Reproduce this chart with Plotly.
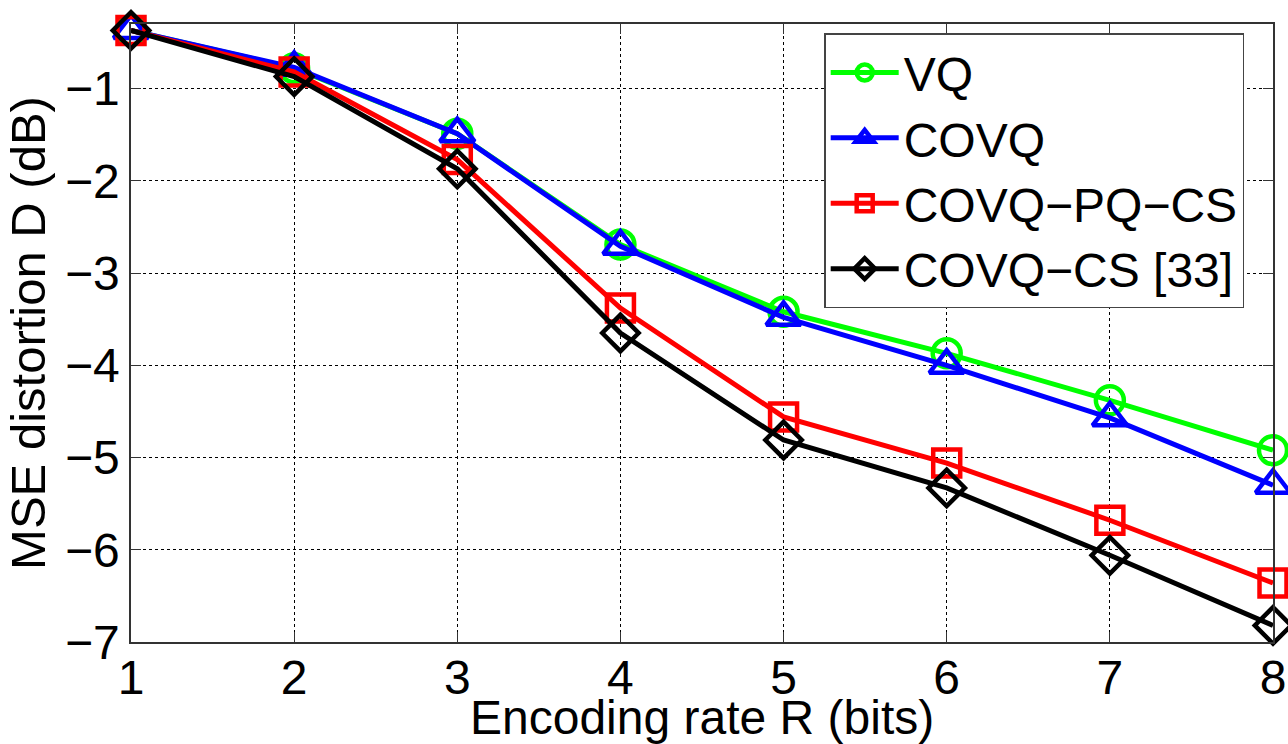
import plotly.graph_objects as go

rate = [1, 2, 3, 4, 5, 6, 7, 8]
vq = [-0.37, -0.78, -1.49, -2.69, -3.42, -3.87, -4.38, -4.92]
covq = [-0.37, -0.77, -1.49, -2.71, -3.48, -4.00, -4.57, -5.30]
covq_pq_cs = [-0.37, -0.82, -1.77, -3.38, -4.56, -5.06, -5.68, -6.36]
covq_cs = [-0.37, -0.87, -1.87, -3.65, -4.81, -5.33, -6.06, -6.82]

series = [
    ("VQ", vq, "#00ff00", "circle-open", 28),
    ("COVQ", covq, "#0000ff", "triangle-up-open", 30),
    ("COVQ\u2212PQ\u2212CS", covq_pq_cs, "#ff0000", "square-open", 27),
    ("COVQ\u2212CS [33]", covq_cs, "#000000", "diamond-open", 28),
]

fig = go.Figure()
for name, vals, color, sym, size in series:
    fig.add_trace(go.Scatter(
        x=rate, y=vals, name=name, mode="lines+markers",
        line=dict(color=color, width=5),
        marker=dict(symbol=sym, size=size, color=color, line=dict(color=color, width=4.5)),
        cliponaxis=False,
    ))

font = "Liberation Sans, Arial, sans-serif"
fig.update_layout(
    width=1288, height=744,
    margin=dict(l=131, r=15, t=24, b=102),
    paper_bgcolor="white", plot_bgcolor="white",
    font=dict(family=font, size=48, color="black"),
    showlegend=True,
    legend=dict(
        x=0.607, y=0.985, xanchor="left", yanchor="top",
        bordercolor="#444", borderwidth=1.5, bgcolor="white",
        font=dict(size=48), itemwidth=68, tracegroupgap=0,
    ),
    xaxis=dict(
        range=[1, 8], dtick=1, tick0=1, automargin=False,
        showgrid=True, gridcolor="black", griddash="dot", gridwidth=1,
        ticks="inside", ticklen=10, tickcolor="#333",
        showline=True, linecolor="#333", linewidth=1.5, mirror="ticks",
        zeroline=False, ticklabelstandoff=-7,
        tickfont=dict(size=48),
    ),
    yaxis=dict(
        range=[-7, -0.3], dtick=1, tick0=-7, automargin=False,
        showgrid=True, gridcolor="black", griddash="dot", gridwidth=1,
        ticks="inside", ticklen=10, tickcolor="#333",
        showline=True, linecolor="#333", linewidth=1.5, mirror="ticks",
        zeroline=False,
        title=dict(text="MSE distortion D (dB)", standoff=4, font=dict(size=49)),
        tickfont=dict(size=48),
    ),
    annotations=[dict(
        text="Encoding rate R (bits)", xref="paper", yref="paper",
        x=0.5, y=0, xanchor="center", yanchor="top", yshift=-48,
        showarrow=False, font=dict(size=48), borderpad=0,
    )],
)

fig.write_html(
    "out.html",
    config={"displayModeBar": False},
    post_script="document.body.style.margin='0';document.body.style.overflow='hidden';",
)
